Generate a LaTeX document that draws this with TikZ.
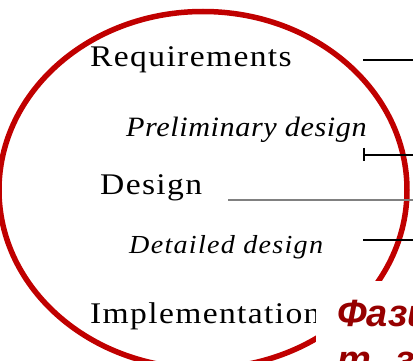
\documentclass[tikz,border=0pt]{standalone}
\usepackage{fontspec}
\setmainfont{Liberation Serif}
\newfontfamily\phasefont{Liberation Sans}
\newfontfamily\labelfont{Liberation Serif}[LetterSpace=4.5,FakeStretch=1.12]
\newfontfamily\labelfontit{Liberation Serif Italic}[LetterSpace=2,FakeStretch=1.08]
\newfontfamily\labelfontitb{Liberation Serif Italic}[LetterSpace=5,FakeStretch=1.08]
\definecolor{ringred}{RGB}{192,0,0}
\definecolor{titlered}{RGB}{150,0,0}
\definecolor{midgray}{RGB}{128,128,128}
\begin{document}
\begin{tikzpicture}[x=1pt,y=-1pt,
  stage/.style={anchor=base west,inner sep=0pt,font=\labelfont\fontsize{30}{32}\selectfont},
  substage/.style={anchor=base west,inner sep=0pt,font=\labelfontit\fontsize{28}{30}\selectfont},
  caption/.style={anchor=base west,inner sep=0pt,text=titlered,
    font=\phasefont\bfseries\itshape\fontsize{38}{44}\selectfont},
  rule/.style={line width=2pt,black},
  ring/.style={draw=ringred,line width=5.5pt}]
  \useasboundingbox (0,0) rectangle (413,361);
  \clip (0,0) rectangle (413,361);
  % oval around the phase list
  \draw[ring] (203,190) ellipse [x radius=204pt, y radius=178.5pt];
  % phase names
  \node[stage] (req) at (90,67) {Requirements};
  \node[substage] (pre) at (126,136) {Preliminary design};
  \node[stage] (des) at (100,194) {Design};
  \node[substage,font=\labelfontitb\fontsize{26}{28}\selectfont] (det) at (129,253) {Detailed design};
  \node[stage] (imp) at (90,323) {Implementation};
  % timeline markers
  \coordinate (reqA) at (363,60);  \coordinate (reqB) at (413,60);
  \coordinate (preA) at (364,155); \coordinate (preB) at (413,155);
  \coordinate (preT1) at (364,148); \coordinate (preT2) at (364,161);
  \coordinate (desA) at (228,200); \coordinate (desB) at (413,200);
  \coordinate (detA) at (363,240); \coordinate (detB) at (413,240);
  \draw[rule] (reqA) -- (reqB);
  \draw[rule] (preA) -- (preB);
  \draw[rule] (preT1) -- (preT2);
  \draw[midgray,line width=1.5pt] (desA) -- (desB);
  \draw[rule] (detA) -- (detB);
  % caption box
  \fill[white] (316,281) rectangle (420,370);
  \node[caption] (cap1) at (337,326) {Фази};
  \node[caption] (cap2) at (337,372) {т. з};
\end{tikzpicture}
\end{document}
